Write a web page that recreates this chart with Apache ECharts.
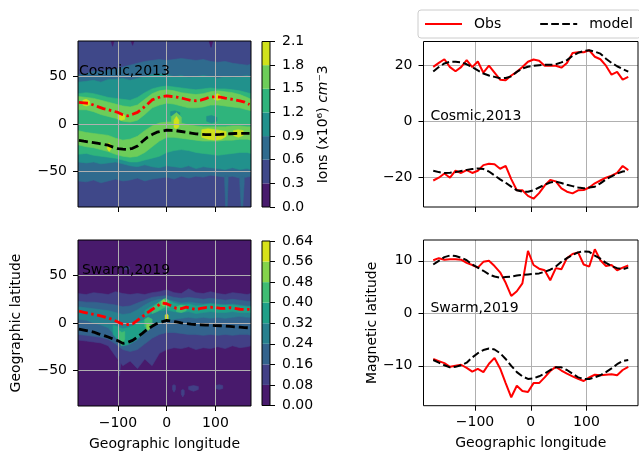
<!DOCTYPE html>
<html>
<head>
<meta charset="utf-8">
<script src="https://cdn.jsdelivr.net/npm/echarts@6/dist/echarts.min.js"></script>
<style>
  html, body { margin: 0; padding: 0; background: #fff; }
  #chart { width: 639px; height: 459px; }
</style>
</head>
<body>
<div id="chart"></div>
<script>
  var FONT = 'DejaVu Sans';

  // ---- crest lines on the maps (geographic latitude, every 10 deg of longitude)
  var lonGeo = [-180, -170, -160, -150, -140, -130, -120, -110, -100, -90, -80, -70, -60, -50, -40, -30, -20, -10,
    0, 10, 20, 30, 40, 50, 60, 70, 80, 90, 100, 110, 120, 130, 140, 150, 160, 170];
  var cosmicCrestN = [22.8, 22.3, 21.8, 20, 18, 16.2, 15, 13.6, 12.2, 9.8, 8.6, 10.2, 12.3, 16.3, 20.5, 25.4, 27.4, 29,
    29.6, 29, 28.4, 27.3, 26.1, 24.8, 24.5, 25.1, 26.8, 28.6, 28.6, 28.3, 27.3, 26.4, 25.5, 24.4, 23, 20.6];
  var cosmicCrestS = [-17.2, -18.1, -18.9, -19.6, -20.5, -21.4, -22.4, -24.4, -26, -26.5, -26.8, -25.6, -23.2, -18.4, -14.1, -11.2, -8.6, -7.6,
    -6.5, -6.8, -7.1, -7.9, -8.7, -9.5, -10.3, -10.8, -11.1, -11.2, -11.2, -11, -10.6, -10.3, -10, -9.9, -9.9, -9.9];
  var swarmCrestN = [12.4, 11.3, 10.1, 9, 8, 6.8, 5.2, 3.5, 1.1, -1.3, -1.6, -1, 2.8, 6.6, 10.7, 14.2, 17.7, 21,
    20.3, 17.9, 15.4, 15.2, 16.7, 15.3, 14.2, 15.4, 16.3, 16.6, 16.4, 15.4, 15.5, 16.1, 15.3, 14.5, 14.4, 14.4];
  var swarmCrestS = [-6.5, -7.4, -8.4, -9.5, -11.4, -13, -14.8, -16.8, -18.7, -21.5, -20.4, -18.3, -14.7, -11, -6.7, -3.5, -0.6, 1.2,
    2.8, 2, 1.1, 0.2, -0.6, -1.2, -1.6, -1.9, -2.2, -2.4, -2.7, -2.9, -3.2, -3.6, -4, -4.4, -4.8, -5.1];

  // ---- crest latitudes (magnetic latitude) for the right panels
  var lonMag = [-175, -165, -155, -145, -135, -125, -115, -105, -95, -85, -75, -65, -55, -45, -35, -25, -15, -5,
    5, 15, 25, 35, 45, 55, 65, 75, 85, 95, 105, 115, 125, 135, 145, 155, 165, 175];
  var cosmicObsN = [19.6, 21, 22.3, 19.5, 18, 19.5, 22, 19.5, 21.5, 17.5, 20, 17.5, 15, 14.8, 16.5, 17.8, 19.5, 21.4,
    22.2, 21.8, 20, 20, 20, 19.3, 21, 24.5, 24.8, 24.8, 25.5, 23.2, 22.3, 20, 16.8, 17.8, 15, 16];
  var cosmicModelN = [17.9, 19.5, 20.8, 21.4, 21.4, 21.2, 20.5, 19.5, 18.3, 17.2, 16.5, 16, 15.5, 15.6, 16.2, 17.8, 19, 19.6,
    20, 20.2, 20.3, 20.3, 20.5, 21.2, 22, 23.5, 24.6, 25.2, 25.5, 25, 24.3, 22.5, 21, 19.8, 18.8, 17.9];
  var cosmicObsS = [-21, -20, -18.5, -20, -17.5, -18.3, -17.3, -18.3, -17.5, -15.5, -15, -15.2, -16.8, -15.8, -20.5, -24.5, -24.5, -26.5,
    -27.5, -25.5, -22.8, -20.8, -21.3, -23.8, -25, -25.6, -24.5, -24.4, -23.5, -22, -21, -20, -19.3, -18.3, -15.8, -17.3];
  var cosmicModelS = [-17.5, -18, -18.3, -18.2, -18, -17.6, -17.2, -16.9, -16.7, -16.9, -17.8, -19.2, -20.6, -21.8, -23.2, -24.5, -25, -25,
    -24.5, -23.5, -22.5, -21.7, -21.4, -21.9, -22.5, -23, -23.5, -23.8, -23.5, -23.2, -22, -20.6, -19.5, -18.5, -17.8, -17.5];
  var swarmObsN = [10.1, 10.5, 10.2, 10.3, 10.3, 10.2, 9.6, 9.2, 8.7, 9.8, 10, 9, 7.8, 5.8, 3.3, 4.2, 5.7, 11.9,
    9.2, 8.5, 8.2, 6.3, 8.6, 8.4, 10.5, 11.3, 11.6, 9.3, 8.9, 12.2, 10.1, 9, 9.2, 8.2, 8.7, 9.1];
  var swarmModelN = [9.3, 10, 10.7, 11, 10.9, 10.6, 10.1, 9.3, 8.7, 8.1, 7.4, 7, 6.8, 6.9, 7, 7.2, 7.3, 7.4,
    7.5, 7.6, 7.9, 8.3, 8.9, 9.8, 10.5, 11.1, 11.6, 11.8, 11.7, 11, 10.4, 9.6, 9, 8.6, 8.4, 8.7];
  var swarmObsS = [-8.7, -9.1, -9.5, -10.2, -10, -9.8, -10.4, -11.1, -10.6, -11.2, -9.6, -8.5, -10.5, -13.3, -16, -13.8, -14.8, -15,
    -13.3, -13.3, -12.2, -11, -10.2, -10.9, -11.5, -12, -12.5, -12.9, -12.2, -11.7, -11.8, -11.7, -11.6, -11.8, -10.8, -10.2];
  var swarmModelS = [-8.9, -9.4, -9.9, -10.3, -10.2, -9.9, -9.4, -8.4, -7.6, -7, -6.7, -6.9, -7.6, -8.7, -10, -11.2, -12, -12.5,
    -12.4, -12, -11.5, -10.8, -10.3, -10.3, -10.8, -11.5, -12.2, -12.5, -12.5, -12.2, -11.8, -11.2, -10.5, -9.7, -9.1, -8.9];

  // ---- contour levels and colours
  var cosmicLevels = [0, 0.3, 0.6, 0.9, 1.2, 1.5, 1.8, 2.1];
  var cosmicColors = ['#481b6d', '#3f4889', '#2f6b8e', '#21918c', '#2fb47c', '#6dcd59', '#d0e11c'];
  var swarmLevels = [0, 0.08, 0.16, 0.24, 0.32, 0.40, 0.48, 0.56, 0.64];
  var swarmColors = ['#481a6c', '#424086', '#33638d', '#27808e', '#1fa088', '#3fbc73', '#84d44b', '#d8e219'];

  // ---- contour band edges (latitude of upper / lower edge at each longitude node)
  var bandLon = [-182, -165, -150, -135, -120, -105, -90, -75, -60, -45, -30, -15, 0, 15, 30, 45, 60, 75, 90, 105, 120, 135, 150, 165, 173];
  var fullLon = [-182, 173], fullTop = [87.5, 87.5], fullBot = [-87.5, -87.5];

  var cLev2Hi = [52, 53, 56, 55, 57, 58, 60, 62, 64, 66, 67, 68, 67, 68, 69, 68, 67, 68, 66, 65, 66, 64, 63, 62, 63];
  var cLev2Lo = [-60, -61, -59, -62, -60, -58, -60, -59, -57, -60, -58, -57, -56, -58, -55, -57, -55, -56, -54, -55, -56, -55, -57, -56, -55];
  var cLev3Hi = [44, 45, 46, 44, 47, 47, 48, 46, 48, 50, 52, 53, 52, 50, 51, 49, 50, 51, 50, 48, 50, 49, 50, 51, 50];
  var cLev3Lo = [-40, -41, -40, -42, -41, -40, -42, -44, -45, -43, -45, -46, -44, -45, -46, -44, -47, -45, -46, -47, -48, -46, -48, -47, -48];
  var cLev4Hi = [32, 33, 32, 30, 28, 27, 26, 25, 28, 33, 37, 39, 40, 39, 38, 37, 36, 37, 38, 37, 37, 36, 35, 33, 32];
  var cLev4Lo = [-32, -31, -33, -34, -35, -36, -38, -40, -40, -38, -36, -34, -30, -28, -27, -28, -30, -31, -32, -33, -32, -31, -30, -30, -31];
  var cLev5NHi = [29, 28, 27, 25, 23, 21, 19, 18, 20, 26, 32, 35, 36, 35, 33, 32, 31, 32, 34, 35, 34, 33, 31, 28, 26];
  var cLev5NLo = [15, 15, 13, 10, 8, 6, 3, 2, 4, 10, 17, 20, 22, 21, 19, 17, 17, 18, 20, 20, 19, 18, 17, 15, 14];
  var cLev5SHi = [-7, -9, -10, -11, -12, -15, -17, -16, -13, -7, -2, 1, 2, 2, 1, -1, -2, -3, -3, -3, -3, -2, -2, -3, -3];
  var cLev5SLo = [-22, -24, -25, -27, -29, -32, -34, -35, -34, -30, -24, -18, -14, -14, -15, -16, -17, -18, -18, -18, -17, -17, -16, -16, -17];
  // small patches: [lon], [upper], [lower]
  var cLow1 = [[-114, -111, -108], [87.5, 87.5, 87.5], [87.5, 82, 87.5]];
  var cLow2 = [[-73, -70, -67], [87.5, 87.5, 87.5], [87.5, 83, 87.5]];
  var cLow3 = [[87, 91, 95], [87.5, 87.5, 87.5], [87.5, 81, 87.5]];
  var cStreak1 = [[119, 121, 124, 126], [-55, -55, -55, -55], [-60, -87.5, -87.5, -60]];
  var cStreak2 = [[150, 153, 156, 159], [-56, -56, -56, -56], [-62, -87.5, -87.5, -62]];
  var cHole1 = [[8, 17, 27], [13, 14, 12], [9, 8, 10]];
  var cHole2 = [[82, 92, 103], [8, 9, 7], [3, 1, 3]];
  var cGreen1 = [[10, 20, 30], [8, 12, 7], [-3, -2, -4]];
  var cYel1 = [[-172, -165, -158], [25, 26, 24], [20, 19, 20]];
  var cYel2 = [[-100, -93, -86], [10, 11, 9], [5, 4, 5]];
  var cYel3 = [[97, 104, 111], [30, 32, 30], [26, 25, 26]];
  var cYel4 = [[-122, -118, -114], [-21, -20, -22], [-26, -29, -26]];
  var cYel5 = [[15, 20, 25], [4, 8, 4], [-4, -5, -3]];
  var cYel6 = [[72, 85, 100, 112, 122], [-6, -5, -6, -7, -8], [-14, -16, -17, -16, -13]];
  var cYel7 = [[137, 147, 157], [-7, -6, -7], [-12, -14, -12]];

  var sLev1Hi = [31, 30, 32, 31, 30, 33, 31, 30, 31, 30, 32, 33, 35, 32, 31, 36, 32, 31, 33, 31, 30, 32, 31, 30, 31];
  var sLev1Lo = [-18, -19, -20, -21, -24, -35, -45, -40, -48, -38, -45, -32, -28, -26, -27, -25, -28, -26, -27, -25, -27, -24, -26, -25, -24];
  var sLev2Hi = [23, 22, 22, 21, 20, 19, 17, 18, 21, 24, 27, 28, 29, 27, 26, 27, 26, 25, 26, 25, 24, 25, 24, 23, 23];
  var sLev2Lo = [-12, -13, -14, -15, -17, -22, -28, -30, -28, -22, -16, -12, -10, -10, -11, -12, -12, -13, -12, -13, -12, -13, -12, -12, -13];
  var sLev3Hi = [17, 16, 15, 14, 13, 11, 9, 10, 14, 19, 23, 25, 25, 23, 21, 22, 21, 20, 21, 20, 19, 20, 19, 18, 18];
  var sLev3Lo = [4, 3, 0, -2, -5, -14, -20, -22, -18, -10, -4, 0, 2, 4, 5, 6, 5, 6, 5, 6, 5, 6, 7, 6, 6];
  var sLev4N = [[-45, -30, -15, 0, 15, 30, 45, 60, 75, 90, 105, 120, 135, 150, 165, 173],
    [13, 18, 22, 25, 21, 19, 20, 18, 19, 20, 19, 19, 19, 18, 17, 17],
    [7, 10, 13, 14, 12, 11, 12, 10, 11, 12, 11, 11, 12, 11, 11, 11]];
  var sLev4S = [[-110, -100, -90, -80, -70, -55, -40], [-2, -4, -6, -5, -3, 1, 5], [-12, -18, -24, -23, -20, -14, -8]];
  var sSpot1 = [[12, 15, 18], [-66, -65, -66], [-70, -73, -70]];
  var sSpot2 = [[30, 33, 36], [-71, -70, -71], [-75, -78, -75]];
  var sSpot3 = [[45, 55, 65], [-67, -66, -67], [-70, -72, -70]];
  var sSpot4 = [[100, 108, 115], [-66, -65, -66], [-69, -70, -69]];
  var sSpot5 = [[-88, -82, -76], [59, 60, 59], [57, 56, 57]];
  var sStreak1 = [[-100, -97, -94], [-40, -40, -40], [-40, -56, -40]];
  var sGreen1 = [[-30, -20, -10, -2, 5], [16, 20, 24, 26, 23], [10, 12, 15, 17, 16]];
  var sGreen2 = [[-45, -38, -30], [4, 6, 4], [-4, -6, -3]];
  var sGreen3 = [[-98, -92, -86], [-8, -10, -9], [-18, -24, -17]];
  var sGreen4 = [[20, 30, 40], [17, 19, 18], [12, 11, 13]];
  var sLight1 = [[-41, -38, -35], [-1, 0, -1], [-6, -8, -6]];
  var sLight2 = [[-10, -6, -2], [23, 25, 23], [19, 18, 19]];
  var sYel1 = [[-3, 0, 3], [8, 10, 8], [4, 3, 4]];

  function patch(level, p) { return [level, p[0], p[1], p[2]]; }

  var cosmicBands = [
    [1, fullLon, fullTop, fullBot],
    patch(0, cLow1), patch(0, cLow2), patch(0, cLow3),
    [2, bandLon, cLev2Hi, cLev2Lo], patch(2, cStreak1), patch(2, cStreak2),
    [3, bandLon, cLev3Hi, cLev3Lo],
    [4, bandLon, cLev4Hi, cLev4Lo],
    patch(3, cHole1), patch(3, cHole2),
    [5, bandLon, cLev5NHi, cLev5NLo], [5, bandLon, cLev5SHi, cLev5SLo], patch(5, cGreen1),
    patch(6, cYel1), patch(6, cYel2), patch(6, cYel3), patch(6, cYel4), patch(6, cYel5), patch(6, cYel6), patch(6, cYel7)
  ];
  var swarmBands = [
    [0, fullLon, fullTop, fullBot],
    [1, bandLon, sLev1Hi, sLev1Lo],
    patch(1, sSpot1), patch(1, sSpot2), patch(1, sSpot3), patch(1, sSpot4), patch(1, sSpot5), patch(1, sStreak1),
    [2, bandLon, sLev2Hi, sLev2Lo],
    [3, bandLon, sLev3Hi, sLev3Lo],
    patch(4, sLev4N), patch(4, sLev4S),
    patch(5, sGreen1), patch(5, sGreen2), patch(5, sGreen3), patch(5, sGreen4),
    patch(6, sLight1), patch(6, sLight2),
    patch(7, sYel1)
  ];

  var zip = function (xs, ys) { return xs.map(function (x, i) { return [x, ys[i]]; }); };
  var minus = function (v) { return v < 0 ? '\u2212' + Math.abs(v) : String(v); };
  var labelStyle = { color: '#000', fontSize: 14, fontFamily: FONT };
  var nameStyle = { color: '#000', fontSize: 14, fontFamily: FONT };

  var chart = echarts.init(document.getElementById('chart'));

  function bandSeries(idx, bands, colors) {
    return {
      type: 'custom', xAxisIndex: idx, yAxisIndex: idx, z: 1, clip: true, silent: true,
      data: bands.map(function (b, i) { return [b[1][0], b[2][0], i]; }),
      encode: { x: 0, y: 1 },
      renderItem: function (params, api) {
        var b = bands[params.dataIndex];
        var pts = [];
        for (var i = 0; i < b[1].length; i++) pts.push(api.coord([b[1][i], b[2][i]]));
        for (var j = b[1].length - 1; j >= 0; j--) pts.push(api.coord([b[1][j], b[3][j]]));
        var c = colors[b[0]];
        return { type: 'polygon', shape: { points: pts }, style: { fill: c, stroke: c, lineWidth: 0.6 } };
      }
    };
  }

  function colorbarSeries(idx, levels, colors) {
    return {
      type: 'custom', xAxisIndex: idx, yAxisIndex: idx, silent: true,
      data: colors.map(function (c, i) { return [0, levels[i], levels[i + 1], i]; }),
      encode: { x: 0, y: [1, 2] },
      renderItem: function (params, api) {
        var p0 = api.coord([0, api.value(2)]);
        var p1 = api.coord([1, api.value(1)]);
        return { type: 'rect', shape: { x: p0[0], y: p0[1], width: p1[0] - p0[0], height: p1[1] - p0[1] },
          style: { fill: colors[api.value(3)] } };
      }
    };
  }

  function crestSeries(idx, lats, color, dash) {
    return {
      type: 'line', name: 'crest', xAxisIndex: idx, yAxisIndex: idx, z: 3, symbol: 'none', silent: true,
      data: zip(lonGeo, lats), lineStyle: { color: color, width: 2.8, type: dash }
    };
  }

  function magSeries(idx, name, lats, color, dash) {
    return {
      type: 'line', name: name, xAxisIndex: idx, yAxisIndex: idx, symbol: 'none', showSymbol: false, silent: true,
      data: zip(lonMag, lats), itemStyle: { color: color }, lineStyle: { color: color, width: 2, type: dash }
    };
  }

  function gridBox(left, top, width, height) {
    return { left: left, top: top, width: width, height: height, show: true, z: 10,
      borderColor: '#000', borderWidth: 1, backgroundColor: 'transparent' };
  }

  function xAx(idx, min, max, ticks, showLabel, name, z) {
    return {
      type: 'value', gridIndex: idx, min: min, max: max, z: z || 0,
      axisLine: { show: false, onZero: false },
      axisTick: { show: true, length: 5, customValues: ticks, lineStyle: { color: '#000', width: 1 } },
      axisLabel: { show: showLabel, customValues: ticks, formatter: minus, margin: 10, textStyle: labelStyle },
      splitLine: { show: true, lineStyle: { color: '#b0b0b0', width: 1 } },
      name: name || '', nameLocation: 'middle', nameGap: 31, nameTextStyle: nameStyle
    };
  }

  function yAx(idx, min, max, ticks, name, gap, z) {
    return {
      type: 'value', gridIndex: idx, min: min, max: max, splitNumber: 3, z: z || 0,
      axisLine: { show: false, onZero: false },
      axisTick: { show: true, length: 5, customValues: ticks, lineStyle: { color: '#000', width: 1 } },
      axisLabel: { customValues: ticks, formatter: minus, margin: 11, textStyle: labelStyle },
      splitLine: { show: true, lineStyle: { color: '#b0b0b0', width: 1 } },
      name: name || '', nameLocation: 'middle', nameGap: gap || 0, nameRotate: 90, nameTextStyle: nameStyle
    };
  }

  function cbX(idx) {
    return { type: 'value', gridIndex: idx, min: 0, max: 1, show: false };
  }

  function cbY(idx, levels, digits, name) {
    return {
      type: 'value', gridIndex: idx, position: 'right', min: levels[0], max: levels[levels.length - 1],
      axisLine: { show: false, onZero: false },
      axisTick: { show: true, length: 5, customValues: levels, lineStyle: { color: '#000', width: 1 } },
      axisLabel: { customValues: levels, margin: 12, textStyle: labelStyle,
        formatter: function (v) { return v.toFixed(digits); } },
      splitLine: { show: false },
      name: name || '', nameLocation: 'middle', nameGap: 46, nameRotate: 90,
      nameTextStyle: { color: '#000', fontSize: 14, fontFamily: FONT,
        rich: { r: { fontSize: 14, fontFamily: FONT, color: '#000' }, i: { fontSize: 14, fontFamily: FONT, fontStyle: 'italic', color: '#000' } } }
    };
  }

  var lonTicks = [-100, 0, 100];
  var latTicks = [-50, 0, 50];

  var option = {
    animation: false,
    textStyle: { fontFamily: FONT },
    legend: {
      data: ['Obs', 'model'], left: 418, top: 10, width: 300, orient: 'horizontal',
      itemWidth: 37, itemHeight: 14, itemGap: 38,
      itemStyle: { opacity: 0 },
      padding: [7, 8, 7, 6], borderColor: '#cccccc', borderWidth: 1, borderRadius: 3,
      backgroundColor: 'rgba(255,255,255,0.8)',
      textStyle: { color: '#000', fontSize: 14, fontFamily: FONT, padding: [0, 0, 0, 7] }
    },
    grid: [
      gridBox(78, 41, 173, 166),
      gridBox(78, 240, 173, 166),
      gridBox(262, 41.5, 8, 165.5),
      gridBox(262, 241, 8, 164.5),
      gridBox(423.5, 41.5, 214.5, 165.5),
      gridBox(423.5, 240, 214.5, 165.7)
    ],
    xAxis: [
      xAx(0, -182, 173, lonTicks, false, '', 2),
      xAx(1, -182, 173, lonTicks, true, 'Geographic longitude', 2),
      cbX(2),
      cbX(3),
      xAx(4, -192.5, 192.5, lonTicks, false, ''),
      xAx(5, -192.5, 192.5, lonTicks, true, 'Geographic longitude')
    ],
    yAxis: [
      yAx(0, -87.5, 87.5, latTicks, '', 0, 2),
      yAx(1, -87.5, 87.5, latTicks, 'Geographic latitude', 55, 2),
      cbY(2, cosmicLevels, 1, '{r|Ions (x10\u2076) }{i|cm}{r|\u207b3}'),
      cbY(3, swarmLevels, 2, ''),
      yAx(4, -30.46, 28.64, [-20, 0, 20], '', 0),
      yAx(5, -17.6, 13.96, [-10, 0, 10], 'Magnetic latitude', 44)
    ],
    series: [
      bandSeries(0, cosmicBands, cosmicColors),
      bandSeries(1, swarmBands, swarmColors),
      crestSeries(0, cosmicCrestN, '#ff0000', [9, 3.5, 2.5, 3.5]),
      crestSeries(0, cosmicCrestS, '#000000', [9, 4]),
      crestSeries(1, swarmCrestN, '#ff0000', [9, 3.5, 2.5, 3.5]),
      crestSeries(1, swarmCrestS, '#000000', [9, 4]),
      colorbarSeries(2, cosmicLevels, cosmicColors),
      colorbarSeries(3, swarmLevels, swarmColors),
      magSeries(4, 'Obs', cosmicObsN, '#ff0000', 'solid'),
      magSeries(4, 'model', cosmicModelN, '#000000', [7.7, 3.3]),
      magSeries(4, 'Obs', cosmicObsS, '#ff0000', 'solid'),
      magSeries(4, 'model', cosmicModelS, '#000000', [7.7, 3.3]),
      magSeries(5, 'Obs', swarmObsN, '#ff0000', 'solid'),
      magSeries(5, 'model', swarmModelN, '#000000', [7.7, 3.3]),
      magSeries(5, 'Obs', swarmObsS, '#ff0000', 'solid'),
      magSeries(5, 'model', swarmModelS, '#000000', [7.7, 3.3])
    ]
  };
  chart.setOption(option);

  // panel captions placed at data coordinates
  var captions = [
    [0, -180, 50, 'Cosmic,2013'],
    [1, -174, 50, 'Swarm,2019'],
    [4, -180, 0, 'Cosmic,2013'],
    [5, -180, 0, 'Swarm,2019']
  ];
  chart.setOption({
    graphic: captions.map(function (c) {
      var p = chart.convertToPixel({ xAxisIndex: c[0], yAxisIndex: c[0] }, [c[1], c[2]]);
      return { type: 'text', x: p[0], y: p[1] - 5, z: 100, silent: true,
        style: { text: c[3], fill: '#000', font: '14px "DejaVu Sans"', verticalAlign: 'middle' } };
    })
  });
</script>
</body>
</html>
